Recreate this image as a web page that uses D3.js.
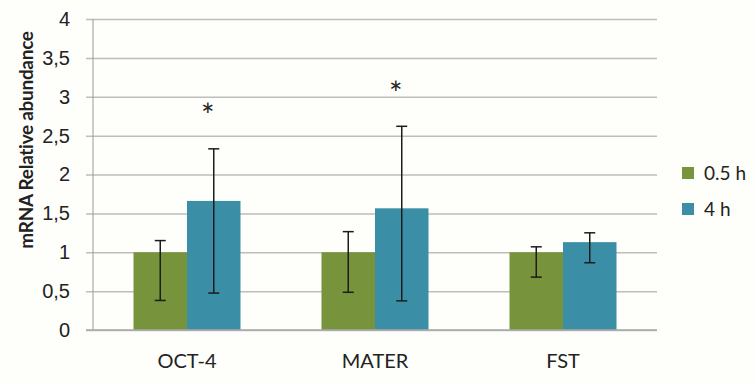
<!DOCTYPE html>
<html>
<head>
<meta charset="utf-8">
<script src="https://cdn.jsdelivr.net/npm/d3@7"></script>
<style>
  body { margin: 0; background: #fefefb; }
  svg { display: block; font-family: Lato, "Open Sans", sans-serif; }
</style>
</head>
<body>
<svg width="755" height="383"></svg>
<script>
  // genes on the x axis
  const genes = ['OCT-4', 'MATER', 'FST'];
  // time points (legend)
  const series = ['0.5 h', '4 h'];
  const seriesColors = ['#77933c', '#3a8fa6'];

  // mean values per series
  const values05 = [1.0, 1.0, 1.0];
  const values4 = [1.66, 1.565, 1.13];
  // error bar bounds
  const errLow05 = [0.38, 0.485, 0.68];
  const errHigh05 = [1.15, 1.265, 1.07];
  const errLow4 = [0.475, 0.375, 0.865];
  const errHigh4 = [2.33, 2.62, 1.25];

  // significance marks (gene, y value)
  const starGenes = ['OCT-4', 'MATER'];
  const starValues = [2.83, 3.11];

  const yTicks = [0, 0.5, 1, 1.5, 2, 2.5, 3, 3.5, 4];
  const yTickLabels = ['0', '0,5', '1', '1,5', '2', '2,5', '3', '3,5', '4'];

  const svg = d3.select('svg');

  const plot = { left: 93, right: 657, top: 19, bottom: 330 };

  const y = d3.scaleLinear().domain([0, 4]).range([plot.bottom, plot.top]);
  const x = d3.scaleBand().domain(genes).range([plot.left, plot.right]);
  const xSub = d3.scaleBand().domain(series).range([0, x.bandwidth()]).paddingOuter(0.757);

  // gridlines + y ticks
  const gridLen = plot.right - plot.left + 7;
  const yAxis = d3.axisLeft(y)
    .tickValues(yTicks)
    .tickFormat((d, i) => yTickLabels[i])
    .tickSize(0);

  const yG = svg.append('g')
    .attr('transform', `translate(${plot.right},0)`)
    .call(yAxis);
  yG.select('.domain').remove();
  yG.selectAll('.tick line')
    .attr('x1', 0)
    .attr('x2', -gridLen)
    .attr('stroke', '#bdbdbd')
    .attr('stroke-width', 1.5);
  yG.selectAll('.tick text')
    .attr('x', -gridLen - 16)
    .attr('font-size', 20)
    .attr('fill', '#222');

  // vertical axis line
  svg.append('line')
    .attr('x1', plot.left).attr('x2', plot.left)
    .attr('y1', plot.top).attr('y2', plot.bottom)
    .attr('stroke', '#9a9a9a')
    .attr('stroke-width', 1);

  // bars
  const rows = genes.map((g, i) => ([
    { gene: g, key: series[0], v: values05[i], lo: errLow05[i], hi: errHigh05[i], color: seriesColors[0] },
    { gene: g, key: series[1], v: values4[i], lo: errLow4[i], hi: errHigh4[i], color: seriesColors[1] }
  ]));

  const groups = svg.append('g').selectAll('g')
    .data(rows)
    .enter().append('g')
    .attr('transform', d => `translate(${x(d[0].gene)},0)`);

  groups.selectAll('rect')
    .data(d => d)
    .enter().append('rect')
    .attr('x', d => xSub(d.key))
    .attr('width', xSub.bandwidth())
    .attr('y', d => y(d.v))
    .attr('height', d => y(0) - y(d.v))
    .attr('fill', d => d.color);

  // bottom axis line (drawn over bars)
  svg.append('line')
    .attr('x1', plot.left - 7).attr('x2', plot.right)
    .attr('y1', plot.bottom).attr('y2', plot.bottom)
    .attr('stroke', '#a8a8a8')
    .attr('stroke-width', 1.5);

  // error bars
  const capW = 11;
  const errs = groups.selectAll('.err')
    .data(d => d)
    .enter().append('g')
    .attr('class', 'err')
    .attr('stroke', '#1c1c1c')
    .attr('stroke-width', 1.5);
  errs.append('line')
    .attr('x1', d => xSub(d.key) + xSub.bandwidth() / 2)
    .attr('x2', d => xSub(d.key) + xSub.bandwidth() / 2)
    .attr('y1', d => y(d.lo))
    .attr('y2', d => y(d.hi));
  errs.selectAll('.cap')
    .data(d => [d.lo, d.hi].map(v => ({ v, cx: xSub(d.key) + xSub.bandwidth() / 2 })))
    .enter().append('line')
    .attr('x1', d => d.cx - capW / 2)
    .attr('x2', d => d.cx + capW / 2)
    .attr('y1', d => y(d.v))
    .attr('y2', d => y(d.v));

  // significance stars
  svg.append('g').selectAll('text')
    .data(starGenes)
    .enter().append('text')
    .attr('x', d => x(d) + xSub(series[1]) + xSub.bandwidth() / 2 - 6)
    .attr('y', (d, i) => y(starValues[i]) + 17)
    .attr('text-anchor', 'middle')
    .attr('font-size', 32)
    .attr('fill', '#222')
    .text('*');

  // x labels
  svg.append('g').selectAll('text')
    .data(genes)
    .enter().append('text')
    .attr('x', d => x(d) + x.bandwidth() / 2)
    .attr('y', 368)
    .attr('text-anchor', 'middle')
    .attr('font-size', 20)
    .attr('fill', '#222')
    .text(d => d);

  // y axis title
  svg.append('text')
    .attr('transform', 'translate(33,140) rotate(-90)')
    .attr('text-anchor', 'middle')
    .attr('font-size', 19)
    .attr('font-weight', 'bold')
    .attr('letter-spacing', -0.3)
    .attr('fill', '#222')
    .text('mRNA Relative abundance');

  // legend
  const legend = svg.append('g').attr('transform', 'translate(682,167)');
  const items = legend.selectAll('g')
    .data(series)
    .enter().append('g')
    .attr('transform', (d, i) => `translate(0,${i * 36})`);
  items.append('rect')
    .attr('width', 12)
    .attr('height', 12)
    .attr('fill', (d, i) => seriesColors[i]);
  items.append('text')
    .attr('x', 22)
    .attr('y', 13)
    .attr('font-size', 19)
    .attr('fill', '#222')
    .text(d => d);
</script>
</body>
</html>
